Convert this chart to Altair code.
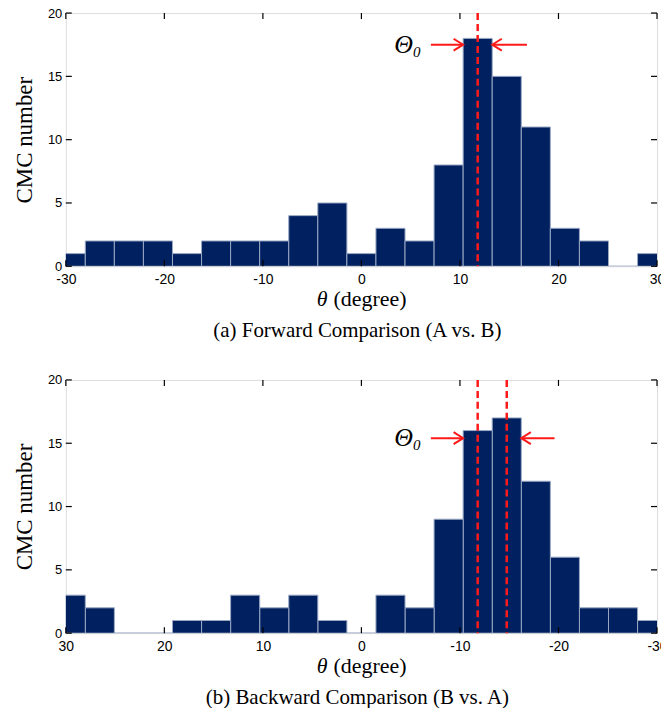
import altair as alt
import pandas as pd

# ---- data ----
bin_centers = [-29.5, -26.55, -23.6, -20.65, -17.7, -14.75, -11.8, -8.85, -5.9, -2.95,
               0.0, 2.95, 5.9, 8.85, 11.8, 14.75, 17.7, 20.65, 23.6, 26.55, 29.5]
bin_width = 2.95
forward_counts = [1, 2, 2, 2, 1, 2, 2, 2, 4, 5, 1, 3, 2, 8, 18, 15, 11, 3, 2, 0, 1]
backward_counts = [1, 2, 2, 6, 12, 17, 16, 9, 2, 3, 0, 1, 3, 2, 3, 1, 1, 0, 0, 2, 3]

x_ticks = [-30, -20, -10, 0, 10, 20, 30]
y_ticks = [0, 5, 10, 15, 20]

forward_peaks = [11.8]
backward_peaks = [-11.8, -14.75]

# arrows: (start, tip, y)
forward_arrows = {"right": (7.05, 10.325, 17.5), "left": (16.8, 13.275, 17.5)}
backward_arrows = {"right": (-7.05, -10.325, 15.4), "left": (-19.6, -16.225, 15.4)}
forward_label = (5.24, 17.5)
backward_label = (-5.24, 15.4)

x_title = ["θ", "(degree)"]
y_title = "CMC number"
captions = ["(a) Forward Comparison (A vs. B)", "(b) Backward Comparison (B vs. A)"]

W, H = 593, 254
NAVY = "#002060"
RED = "#ff1a1a"
SERIF = "Liberation Serif"
SANS = "Liberation Sans"

HEAD_RIGHT = "M-1.6,-1L0,0L-1.6,1"
HEAD_LEFT = "M1.6,-1L0,0L1.6,1"


def panel(counts, peaks, arrows, label_pos, reverse, caption):
    bars = pd.DataFrame({
        "start": [c - bin_width / 2 for c in bin_centers],
        "end": [c + bin_width / 2 for c in bin_centers],
        "count": counts,
    })
    xs = alt.Scale(domain=[-30, 30], nice=False, zero=False, reverse=reverse)
    ys = alt.Scale(domain=[0, 20], nice=False)

    xaxis = alt.Axis(values=x_ticks, ticks=False, domain=False, grid=False, labelFlush=False,
                     labelFont=SANS, labelFontSize=14, labelColor="black", labelPadding=6,
                     labelExpr="replace(datum.label, '\u2212', '-')", title=None)
    yaxis = alt.Axis(values=y_ticks, ticks=False, domain=False, grid=False,
                     labelFont=SANS, labelFontSize=13, labelColor="black", labelPadding=4,
                     title=y_title, titleFont=SERIF, titleFontSize=23,
                     titleFontWeight="normal", titleColor="black", titlePadding=11)

    base = alt.Chart(bars).mark_rect(color=NAVY, stroke="#9aa8c4", strokeWidth=1, clip=True).encode(
        x=alt.X("start:Q", scale=xs, axis=xaxis),
        x2="end:Q",
        y=alt.Y("count:Q", scale=ys, axis=yaxis),
        y2=alt.datum(0),
    )

    xt = pd.DataFrame({"v": x_ticks})
    yt = pd.DataFrame({"v": y_ticks})
    tick_top = alt.Chart(xt).mark_rule(color="black", strokeWidth=1.2).encode(
        x=alt.X("v:Q", scale=xs), y=alt.value(0), y2=alt.value(6))
    tick_bot = alt.Chart(xt).mark_rule(color="black", strokeWidth=1.2).encode(
        x=alt.X("v:Q", scale=xs), y=alt.value(H), y2=alt.value(H - 6))
    tick_left = alt.Chart(yt).mark_rule(color="black", strokeWidth=1.2).encode(
        y=alt.Y("v:Q", scale=ys), x=alt.value(0), x2=alt.value(6))
    tick_right = alt.Chart(yt).mark_rule(color="black", strokeWidth=1.2).encode(
        y=alt.Y("v:Q", scale=ys), x=alt.value(W), x2=alt.value(W - 6))

    peak_df = pd.DataFrame({"p": peaks})
    peak = alt.Chart(peak_df).mark_rule(color=RED, strokeWidth=2.5, strokeDash=[7, 4]).encode(
        x=alt.X("p:Q", scale=xs))

    arr_df = pd.DataFrame({
        "dir": list(arrows.keys()),
        "start": [a[0] for a in arrows.values()],
        "tip": [a[1] for a in arrows.values()],
        "y": [a[2] for a in arrows.values()],
    })
    shafts = alt.Chart(arr_df).mark_rule(color=RED, strokeWidth=2).encode(
        x=alt.X("start:Q", scale=xs), x2="tip:Q", y=alt.Y("y:Q", scale=ys))
    head_r = alt.Chart(arr_df).transform_filter(alt.datum.dir == "right").mark_point(
        shape=HEAD_RIGHT, filled=False, stroke=RED, strokeWidth=2, size=144, opacity=1).encode(
        x=alt.X("tip:Q", scale=xs), y=alt.Y("y:Q", scale=ys))
    head_l = alt.Chart(arr_df).transform_filter(alt.datum.dir == "left").mark_point(
        shape=HEAD_LEFT, filled=False, stroke=RED, strokeWidth=2, size=144, opacity=1).encode(
        x=alt.X("tip:Q", scale=xs), y=alt.Y("y:Q", scale=ys))

    lab_df = pd.DataFrame({"x": [label_pos[0]], "y": [label_pos[1]], "t": ["Θ"], "s": ["0"]})
    theta = alt.Chart(lab_df).mark_text(font=SERIF, fontSize=26, fontStyle="italic",
                                        align="right", baseline="middle", color="black").encode(
        x=alt.X("x:Q", scale=xs), y=alt.Y("y:Q", scale=ys), text="t:N")
    sub = alt.Chart(lab_df).mark_text(font=SERIF, fontSize=15, fontStyle="italic",
                                      align="left", baseline="middle", dy=7, color="black").encode(
        x=alt.X("x:Q", scale=xs), y=alt.Y("y:Q", scale=ys), text="s:N")

    # x axis title (italic theta + plain text) and caption below the plot
    title_df = pd.DataFrame({"a": [x_title[0]], "b": [x_title[1]], "c": [caption]})
    xt_theta = alt.Chart(title_df).mark_text(font=SERIF, fontSize=22, fontStyle="italic",
                                             align="right", baseline="middle", color="black").encode(
        x=alt.value(W / 2 - 34), y=alt.value(H + 33), text="a:N")
    xt_rest = alt.Chart(title_df).mark_text(font=SERIF, fontSize=22,
                                            align="left", baseline="middle", color="black").encode(
        x=alt.value(W / 2 - 28), y=alt.value(H + 33), text="b:N")
    cap = alt.Chart(title_df).mark_text(font=SERIF, fontSize=21,
                                        align="center", baseline="middle", color="black").encode(
        x=alt.value(W / 2 - 4), y=alt.value(H + 65), text="c:N")

    return alt.layer(base, peak, shafts, head_r, head_l, theta, sub,
                     tick_top, tick_bot, tick_left, tick_right,
                     xt_theta, xt_rest, cap).properties(width=W, height=H)


top = panel(forward_counts, forward_peaks, forward_arrows, forward_label, False, captions[0])
bottom = panel(backward_counts, backward_peaks, backward_arrows, backward_label, True, captions[1])

chart = alt.vconcat(top, bottom, spacing=31).properties(
    padding={"left": 5, "top": -3, "right": -7, "bottom": -2}
).configure_view(stroke="black", strokeWidth=1.5).configure(background="white")

chart.save("out.html", embed_options={"renderer": "svg", "actions": False})
